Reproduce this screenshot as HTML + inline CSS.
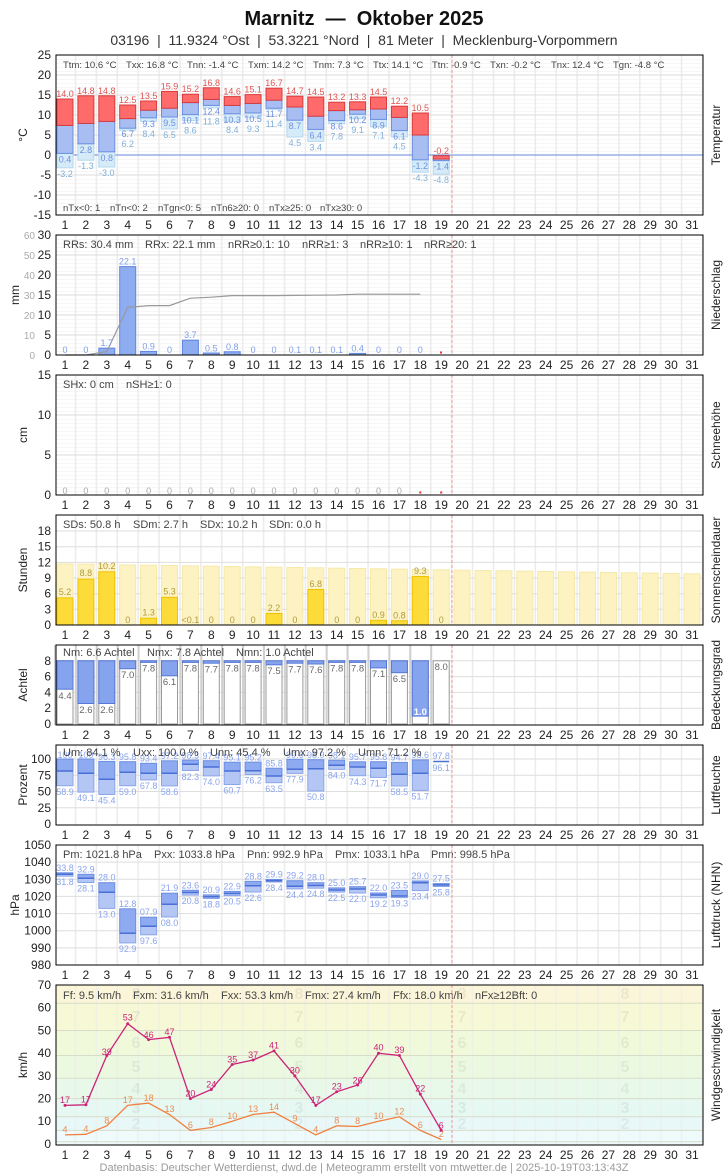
<!DOCTYPE html>
<html><head><meta charset="utf-8"><style>
html,body{margin:0;padding:0;background:#fff}
svg{display:block;font-family:"Liberation Sans",sans-serif}
.t{font-size:12px;fill:#222}
.d{font-size:12px;fill:#222;text-anchor:middle}
.s{font-size:9.5px;fill:#444}
.s2{font-size:11px;fill:#444}
.rl{font-size:12px;fill:#222;text-anchor:middle}
.lab{font-size:9px;text-anchor:middle}
.pre{white-space:pre}
</style></head><body>
<svg width="728" height="1175" viewBox="0 0 728 1175" xmlns="http://www.w3.org/2000/svg">
<defs>
<pattern id="pv" patternUnits="userSpaceOnUse" x="53.8" y="0" width="20.9" height="1200"><rect x="0" y="0" width="1.6" height="1200" fill="#ececec"/></pattern>
<pattern id="ph" patternUnits="userSpaceOnUse" x="0" y="55" width="10" height="4"><rect x="0" y="0" width="10" height="0.6" fill="#f0f0f0"/></pattern>
</defs>
<rect width="728" height="1175" fill="#fff"/>
<text x="364" y="25" text-anchor="middle" class="pre" style="font-size:20px;font-weight:bold" fill="#111">Marnitz  —  Oktober 2025</text>
<text x="364" y="45" text-anchor="middle" class="pre" style="font-size:14px" fill="#333">03196  |  11.9324 °Ost  |  53.3221 °Nord  |  81 Meter  |  Mecklenburg-Vorpommern</text>

<g>
<rect x="56" y="55" width="647" height="160" fill="url(#ph)"/>
<rect x="56" y="235" width="647" height="120" fill="url(#ph)"/>
<rect x="56" y="375" width="647" height="120" fill="url(#ph)"/>
<rect x="56" y="55" width="647" height="160" fill="url(#pv)"/>
<rect x="56" y="235" width="647" height="120" fill="url(#pv)"/>
<rect x="56" y="375" width="647" height="120" fill="url(#pv)"/>
<rect x="56" y="515" width="647" height="110" fill="url(#pv)"/>
<rect x="56" y="645" width="647" height="80" fill="url(#pv)"/>
<rect x="56" y="745" width="647" height="80" fill="url(#pv)"/>
<rect x="56" y="845" width="647" height="120" fill="url(#pv)"/>
</g>
<g stroke="#dedede" stroke-width="1">
<path d="M56 75H703M56 95H703M56 115H703M56 135H703M56 175H703M56 195H703"/>
<path d="M56 255H703M56 275H703M56 295H703M56 315H703M56 335H703"/>
<path d="M56 415H703M56 455H703"/>
<path d="M56 531H703M56 546.7H703M56 562.4H703M56 578H703M56 593.7H703M56 609.3H703"/>
<path d="M56 660.8H703M56 676.6H703M56 692.4H703M56 708.2H703"/>
<path d="M56 759H703M56 775.25H703M56 791.5H703M56 807.75H703"/>
<path d="M56 862.1H703M56 879.3H703M56 896.4H703M56 913.6H703M56 930.7H703M56 947.9H703"/>
</g>
<line x1="56" y1="155" x2="703" y2="155" stroke="#6688dd" stroke-width="1"/>

<g stroke-width="1">
<g fill="#d6ebf8" stroke="#b4d8f0">
<rect x="57" y="153.4" width="16" height="14.4"/><rect x="77.9" y="143.8" width="16" height="16.4"/><rect x="98.8" y="151.8" width="16" height="15.2"/><rect x="119.7" y="128.2" width="16" height="2"/><rect x="140.6" y="117.8" width="16" height="3.6"/><rect x="161.5" y="117" width="16" height="12"/><rect x="182.4" y="114.6" width="16" height="6"/><rect x="203.3" y="105.4" width="16" height="2.4"/><rect x="224.2" y="113.8" width="16" height="7.6"/><rect x="245.1" y="113" width="16" height="4.8"/><rect x="266" y="108.2" width="16" height="1.2"/><rect x="286.9" y="120.2" width="16" height="16.8"/><rect x="307.8" y="129.4" width="16" height="12"/><rect x="328.7" y="120.6" width="16" height="3.2"/><rect x="349.6" y="114.2" width="16" height="4.4"/><rect x="370.5" y="119.4" width="16" height="7.2"/><rect x="391.4" y="130.6" width="16" height="6.4"/><rect x="412.3" y="159.8" width="16" height="12.4"/><rect x="433.2" y="160.6" width="16" height="13.6"/>
</g>
<g fill="#a8bef2" stroke="#6a8ee0">
<rect x="57" y="125.4" width="16" height="28"/><rect x="77.9" y="123.4" width="16" height="20.4"/><rect x="98.8" y="121.4" width="16" height="30.4"/><rect x="119.7" y="118.6" width="16" height="9.6"/><rect x="140.6" y="110.2" width="16" height="7.6"/><rect x="161.5" y="108.2" width="16" height="8.8"/><rect x="182.4" y="102.6" width="16" height="12"/><rect x="203.3" y="99.4" width="16" height="6"/><rect x="224.2" y="105.4" width="16" height="8.4"/><rect x="245.1" y="103.4" width="16" height="9.6"/><rect x="266" y="100.2" width="16" height="8"/><rect x="286.9" y="107" width="16" height="13.2"/><rect x="307.8" y="116.2" width="16" height="13.2"/><rect x="328.7" y="110.6" width="16" height="10"/><rect x="349.6" y="109.8" width="16" height="4.4"/><rect x="370.5" y="109" width="16" height="10.4"/><rect x="391.4" y="117.4" width="16" height="13.2"/><rect x="412.3" y="135" width="16" height="24.8"/><rect x="433.2" y="159" width="16" height="1.6"/>
</g>
<g fill="#ff6b6b" stroke="#d83a3a">
<rect x="57" y="99" width="16" height="26.4"/><rect x="77.9" y="95.8" width="16" height="27.6"/><rect x="98.8" y="95.8" width="16" height="25.6"/><rect x="119.7" y="105" width="16" height="13.6"/><rect x="140.6" y="101" width="16" height="9.2"/><rect x="161.5" y="91.4" width="16" height="16.8"/><rect x="182.4" y="94.2" width="16" height="8.4"/><rect x="203.3" y="87.8" width="16" height="11.6"/><rect x="224.2" y="96.6" width="16" height="8.8"/><rect x="245.1" y="94.6" width="16" height="8.8"/><rect x="266" y="88.2" width="16" height="12"/><rect x="286.9" y="96.2" width="16" height="10.8"/><rect x="307.8" y="97" width="16" height="19.2"/><rect x="328.7" y="102.2" width="16" height="8.4"/><rect x="349.6" y="101.8" width="16" height="8"/><rect x="370.5" y="97" width="16" height="12"/><rect x="391.4" y="106.2" width="16" height="11.2"/><rect x="412.3" y="113" width="16" height="22"/><rect x="433.2" y="155.8" width="16" height="3.2"/>
</g>
</g>
<g class="lab" fill="#e05555">
<text x="65" y="97">14.0</text><text x="85.9" y="93.8">14.8</text><text x="106.8" y="93.8">14.8</text><text x="127.7" y="103">12.5</text><text x="148.6" y="99">13.5</text><text x="169.5" y="89.4">15.9</text><text x="190.4" y="92.2">15.2</text><text x="211.3" y="85.8">16.8</text><text x="232.2" y="94.6">14.6</text><text x="253.1" y="92.6">15.1</text><text x="274" y="86.2">16.7</text><text x="294.9" y="94.2">14.7</text><text x="315.8" y="95">14.5</text><text x="336.7" y="100.2">13.2</text><text x="357.6" y="99.8">13.3</text><text x="378.5" y="95">14.5</text><text x="399.4" y="104.2">12.2</text><text x="420.3" y="111">10.5</text><text x="441.2" y="153.8">-0.2</text>
</g>
<g class="lab" fill="#6f8fe0">
<text x="65" y="162.4">0.4</text><text x="85.9" y="152.8">2.8</text><text x="106.8" y="160.8">0.8</text><text x="127.7" y="137.2">6.7</text><text x="148.6" y="126.8">9.3</text><text x="169.5" y="126">9.5</text><text x="190.4" y="123.6">10.1</text><text x="211.3" y="114.4">12.4</text><text x="232.2" y="122.8">10.3</text><text x="253.1" y="122">10.5</text><text x="274" y="117.2">11.7</text><text x="294.9" y="129.2">8.7</text><text x="315.8" y="138.4">6.4</text><text x="336.7" y="129.6">8.6</text><text x="357.6" y="123.2">10.2</text><text x="378.5" y="128.4">8.9</text><text x="399.4" y="139.6">6.1</text><text x="420.3" y="168.8">-1.2</text><text x="441.2" y="169.6">-1.4</text>
</g>
<g class="lab" fill="#80b0d8">
<text x="65" y="176.8">-3.2</text><text x="85.9" y="169.2">-1.3</text><text x="106.8" y="176">-3.0</text><text x="127.7" y="147.2">6.2</text><text x="148.6" y="136.8">8.4</text><text x="169.5" y="138">6.5</text><text x="190.4" y="133.6">8.6</text><text x="211.3" y="124.4">11.8</text><text x="232.2" y="132.8">8.4</text><text x="253.1" y="132">9.3</text><text x="274" y="127.2">11.4</text><text x="294.9" y="146">4.5</text><text x="315.8" y="150.4">3.4</text><text x="336.7" y="139.6">7.8</text><text x="357.6" y="133.2">9.1</text><text x="378.5" y="138.4">7.1</text><text x="399.4" y="149.6">4.5</text><text x="420.3" y="181.2">-4.3</text><text x="441.2" y="183.2">-4.8</text>
</g>
<g class="s">
<text x="63" y="68">Ttm: 10.6 °C</text><text x="126" y="68">Txx: 16.8 °C</text><text x="187" y="68">Tnn: -1.4 °C</text><text x="248" y="68">Txm: 14.2 °C</text><text x="313" y="68">Tnm: 7.3 °C</text><text x="373" y="68">Ttx: 14.1 °C</text><text x="432" y="68">Ttn: -0.9 °C</text><text x="490" y="68">Txn: -0.2 °C</text><text x="551" y="68">Tnx: 12.4 °C</text><text x="613" y="68">Tgn: -4.8 °C</text>
<text x="63" y="211">nTx&lt;0: 1</text><text x="110" y="211">nTn&lt;0: 2</text><text x="158" y="211">nTgn&lt;0: 5</text><text x="211" y="211">nTn6≥20: 0</text><text x="269" y="211">nTx≥25: 0</text><text x="320" y="211">nTx≥30: 0</text>
</g>

<g fill="#8eacf0" stroke="#5f85e0">
<rect x="98.8" y="348.2" width="16" height="6.8"/><rect x="119.7" y="266.6" width="16" height="88.4"/><rect x="140.6" y="351.4" width="16" height="3.6"/><rect x="182.4" y="340.2" width="16" height="14.8"/><rect x="203.3" y="353" width="16" height="2"/><rect x="224.2" y="351.8" width="16" height="3.2"/><rect x="349.6" y="353.4" width="16" height="1.6"/>
</g>
<polyline fill="none" stroke="#999" stroke-width="1.2" points="65,355 85.9,355 106.8,351.6 127.7,307.4 148.6,305.6 169.5,305.6 190.4,298.2 211.3,297.2 232.2,295.6 253.1,295.6 274,295.6 294.9,295.4 315.8,295.2 336.7,295 357.6,294.2 378.5,294.2 399.4,294.2 420.3,294.2"/>
<g class="lab" fill="#7f9fe8">
<text x="65" y="353">0</text><text x="85.9" y="353">0</text><text x="106.8" y="346">1.7</text><text x="127.7" y="264.5">22.1</text><text x="148.6" y="349.5">0.9</text><text x="169.5" y="353">0</text><text x="190.4" y="338">3.7</text><text x="211.3" y="351.5">0.5</text><text x="232.2" y="350">0.8</text><text x="253.1" y="353">0</text><text x="274" y="353">0</text><text x="294.9" y="353">0.1</text><text x="315.8" y="353">0.1</text><text x="336.7" y="353">0.1</text><text x="357.6" y="351.5">0.4</text><text x="378.5" y="353">0</text><text x="399.4" y="353">0</text><text x="420.3" y="353">0</text>
</g>
<rect x="440" y="351.5" width="2" height="2" fill="#e33"/>
<g class="s2">
<text x="63" y="248">RRs: 30.4 mm</text><text x="145" y="248">RRx: 22.1 mm</text><text x="228" y="248">nRR≥0.1: 10</text><text x="302" y="248">nRR≥1: 3</text><text x="360" y="248">nRR≥10: 1</text><text x="424" y="248">nRR≥20: 1</text>
</g>

<g class="lab" fill="#aaa">
<text x="65" y="494">0</text><text x="85.9" y="494">0</text><text x="106.8" y="494">0</text><text x="127.7" y="494">0</text><text x="148.6" y="494">0</text><text x="169.5" y="494">0</text><text x="190.4" y="494">0</text><text x="211.3" y="494">0</text><text x="232.2" y="494">0</text><text x="253.1" y="494">0</text><text x="274" y="494">0</text><text x="294.9" y="494">0</text><text x="315.8" y="494">0</text><text x="336.7" y="494">0</text><text x="357.6" y="494">0</text><text x="378.5" y="494">0</text><text x="399.4" y="494">0</text>
</g>
<rect x="419.3" y="491.5" width="2" height="2" fill="#e33"/><rect x="440.2" y="491.5" width="2" height="2" fill="#e33"/>
<g class="s2"><text x="63" y="388">SHx: 0 cm</text><text x="126" y="388">nSH≥1: 0</text></g>

<g fill="#fdf3c2" stroke="#f6e8a8">
<rect x="57" y="563.9" width="16" height="61.1"/><rect x="77.9" y="564.2" width="16" height="60.8"/><rect x="98.8" y="564.6" width="16" height="60.4"/><rect x="119.7" y="564.9" width="16" height="60.1"/><rect x="140.6" y="565.2" width="16" height="59.8"/><rect x="161.5" y="565.5" width="16" height="59.5"/><rect x="182.4" y="565.9" width="16" height="59.1"/><rect x="203.3" y="566.2" width="16" height="58.8"/><rect x="224.2" y="566.5" width="16" height="58.5"/><rect x="245.1" y="566.9" width="16" height="58.1"/><rect x="266" y="567.2" width="16" height="57.8"/><rect x="286.9" y="567.5" width="16" height="57.5"/><rect x="307.8" y="567.8" width="16" height="57.2"/><rect x="328.7" y="568.2" width="16" height="56.8"/><rect x="349.6" y="568.5" width="16" height="56.5"/><rect x="370.5" y="568.8" width="16" height="56.2"/><rect x="391.4" y="569.2" width="16" height="55.8"/><rect x="412.3" y="569.5" width="16" height="55.5"/><rect x="433.2" y="569.8" width="16" height="55.2"/><rect x="454.1" y="570.2" width="16" height="54.8"/><rect x="475" y="570.5" width="16" height="54.5"/><rect x="495.9" y="570.8" width="16" height="54.2"/><rect x="516.8" y="571.1" width="16" height="53.9"/><rect x="537.7" y="571.5" width="16" height="53.5"/><rect x="558.6" y="571.8" width="16" height="53.2"/><rect x="579.5" y="572.1" width="16" height="52.9"/><rect x="600.4" y="572.5" width="16" height="52.5"/><rect x="621.3" y="572.8" width="16" height="52.2"/><rect x="642.2" y="573.1" width="16" height="51.9"/><rect x="663.1" y="573.4" width="16" height="51.6"/><rect x="684" y="573.8" width="16" height="51.2"/>
</g>
<g fill="#fddc3a" stroke="#efc200">
<rect x="57" y="597.9" width="16" height="27.1"/><rect x="77.9" y="579.1" width="16" height="45.9"/><rect x="98.8" y="571.8" width="16" height="53.2"/><rect x="140.6" y="618.2" width="16" height="6.8"/><rect x="161.5" y="597.3" width="16" height="27.7"/><rect x="266" y="613.5" width="16" height="11.5"/><rect x="307.8" y="589.5" width="16" height="35.5"/><rect x="370.5" y="620.3" width="16" height="4.7"/><rect x="391.4" y="620.8" width="16" height="4.2"/><rect x="412.3" y="576.5" width="16" height="48.5"/>
</g>
<g class="lab" fill="#b09a3a">
<text x="65" y="595">5.2</text><text x="85.9" y="576">8.8</text><text x="106.8" y="569">10.2</text><text x="127.7" y="623">0</text><text x="148.6" y="615.5">1.3</text><text x="169.5" y="594.5">5.3</text><text x="190.4" y="623">&lt;0.1</text><text x="211.3" y="623">0</text><text x="232.2" y="623">0</text><text x="253.1" y="623">0</text><text x="274" y="611">2.2</text><text x="294.9" y="623">0</text><text x="315.8" y="587">6.8</text><text x="336.7" y="623">0</text><text x="357.6" y="623">0</text><text x="378.5" y="618">0.9</text><text x="399.4" y="618.5">0.8</text><text x="420.3" y="574">9.3</text><text x="441.2" y="623">0</text>
</g>
<g class="s2"><text x="63" y="528">SDs: 50.8 h</text><text x="133" y="528">SDm: 2.7 h</text><text x="200" y="528">SDx: 10.2 h</text><text x="269" y="528">SDn: 0.0 h</text></g>

<g stroke="#d0d0d0" stroke-width="2"><path d="M55 645V725M75.9 645V725M96.8 645V725M117.7 645V725M138.6 645V725M159.5 645V725M180.4 645V725M201.3 645V725M222.2 645V725M243.1 645V725M264 645V725M284.9 645V725M305.8 645V725M326.7 645V725M347.6 645V725M368.5 645V725M389.4 645V725M410.3 645V725M431.2 645V725"/></g>
<g fill="#fff" stroke="#999">
<rect x="57" y="660.8" width="16" height="63.2"/><rect x="77.9" y="660.8" width="16" height="63.2"/><rect x="98.8" y="660.8" width="16" height="63.2"/><rect x="119.7" y="660.8" width="16" height="63.2"/><rect x="140.6" y="660.8" width="16" height="63.2"/><rect x="161.5" y="660.8" width="16" height="63.2"/><rect x="182.4" y="660.8" width="16" height="63.2"/><rect x="203.3" y="660.8" width="16" height="63.2"/><rect x="224.2" y="660.8" width="16" height="63.2"/><rect x="245.1" y="660.8" width="16" height="63.2"/><rect x="266" y="660.8" width="16" height="63.2"/><rect x="286.9" y="660.8" width="16" height="63.2"/><rect x="307.8" y="660.8" width="16" height="63.2"/><rect x="328.7" y="660.8" width="16" height="63.2"/><rect x="349.6" y="660.8" width="16" height="63.2"/><rect x="370.5" y="660.8" width="16" height="63.2"/><rect x="391.4" y="660.8" width="16" height="63.2"/><rect x="412.3" y="660.8" width="16" height="63.2"/><rect x="433.2" y="660.8" width="16" height="63.2"/>
</g>
<g fill="#86a4ee" stroke="#5577d8">
<rect x="57" y="660.8" width="16" height="28.4"/><rect x="77.9" y="660.8" width="16" height="42.7"/><rect x="98.8" y="660.8" width="16" height="42.7"/><rect x="119.7" y="660.8" width="16" height="7.9"/><rect x="140.6" y="660.8" width="16" height="1.6"/><rect x="161.5" y="660.8" width="16" height="15"/><rect x="182.4" y="660.8" width="16" height="1.6"/><rect x="203.3" y="660.8" width="16" height="2.4"/><rect x="224.2" y="660.8" width="16" height="1.6"/><rect x="245.1" y="660.8" width="16" height="1.6"/><rect x="266" y="660.8" width="16" height="4"/><rect x="286.9" y="660.8" width="16" height="2.4"/><rect x="307.8" y="660.8" width="16" height="3.2"/><rect x="328.7" y="660.8" width="16" height="1.6"/><rect x="349.6" y="660.8" width="16" height="1.6"/><rect x="370.5" y="660.8" width="16" height="7.1"/><rect x="391.4" y="660.8" width="16" height="11.9"/><rect x="412.3" y="660.8" width="16" height="55.3"/>
</g>
<g class="lab" fill="#666" style="font-size:9.5px">
<text x="65" y="699">4.4</text><text x="85.9" y="713">2.6</text><text x="106.8" y="713">2.6</text><text x="127.7" y="678">7.0</text><text x="148.6" y="671.5">7.8</text><text x="169.5" y="685">6.1</text><text x="190.4" y="671.5">7.8</text><text x="211.3" y="672.5">7.7</text><text x="232.2" y="671.5">7.8</text><text x="253.1" y="671.5">7.8</text><text x="274" y="674">7.5</text><text x="294.9" y="672.5">7.7</text><text x="315.8" y="673">7.6</text><text x="336.7" y="671.5">7.8</text><text x="357.6" y="671.5">7.8</text><text x="378.5" y="677">7.1</text><text x="399.4" y="682">6.5</text><text x="441.2" y="670">8.0</text>
</g>
<text x="420.3" y="715" class="lab" fill="#fff" style="font-weight:bold;font-size:9.5px">1.0</text>
<g class="s2"><text x="63" y="656">Nm: 6.6 Achtel</text><text x="147" y="656">Nmx: 7.8 Achtel</text><text x="236" y="656">Nmn: 1.0 Achtel</text></g>

<g fill="#8eaaf0" stroke="#6a8ee0">
<rect x="57" y="759" width="16" height="12"/><rect x="77.9" y="759" width="16" height="14.3"/><rect x="98.8" y="761.4" width="16" height="17.9"/><rect x="119.7" y="761.7" width="16" height="10.6"/><rect x="140.6" y="763.3" width="16" height="10"/><rect x="161.5" y="760.8" width="16" height="12.5"/><rect x="182.4" y="760.1" width="16" height="4.2"/><rect x="203.3" y="760.7" width="16" height="6.3"/><rect x="224.2" y="762.2" width="16" height="8.8"/><rect x="245.1" y="762.1" width="16" height="8.6"/><rect x="266" y="768.2" width="16" height="7.8"/><rect x="286.9" y="759.3" width="16" height="10"/><rect x="307.8" y="759.7" width="16" height="9"/><rect x="328.7" y="760.2" width="16" height="5.1"/><rect x="349.6" y="761.8" width="16" height="5.2"/><rect x="370.5" y="761.7" width="16" height="6.6"/><rect x="391.4" y="762.4" width="16" height="11.9"/><rect x="412.3" y="759.9" width="16" height="13.4"/>
</g>
<g fill="#b4c6f4" stroke="#8aa6ea">
<rect x="57" y="771" width="16" height="14.7"/><rect x="77.9" y="773.3" width="16" height="18.8"/><rect x="98.8" y="779.3" width="16" height="15.2"/><rect x="119.7" y="772.3" width="16" height="13.4"/><rect x="140.6" y="773.3" width="16" height="6.6"/><rect x="161.5" y="773.3" width="16" height="12.6"/><rect x="182.4" y="764.3" width="16" height="6.2"/><rect x="203.3" y="767" width="16" height="8.9"/><rect x="224.2" y="771" width="16" height="13.5"/><rect x="245.1" y="770.7" width="16" height="3.8"/><rect x="266" y="776" width="16" height="6.7"/><rect x="286.9" y="769.3" width="16" height="4.1"/><rect x="307.8" y="768.7" width="16" height="22.3"/><rect x="328.7" y="765.3" width="16" height="4.1"/><rect x="349.6" y="767" width="16" height="8.7"/><rect x="370.5" y="768.3" width="16" height="9.1"/><rect x="391.4" y="774.3" width="16" height="11.7"/><rect x="412.3" y="773.3" width="16" height="17.1"/>
</g>
<g stroke="#4a6fd6" stroke-width="1.5">
<path d="M57 771h16M77.9 773.3h16M98.8 779.3h16M119.7 772.3h16M140.6 773.3h16M161.5 773.3h16M182.4 764.3h16M203.3 767h16M224.2 771h16M245.1 770.7h16M266 776h16M286.9 769.3h16M307.8 768.7h16M328.7 765.3h16M349.6 767h16M370.5 768.3h16M391.4 774.3h16M412.3 773.3h16M433.2 761.5h16"/>
</g>
<g class="lab" fill="#8aa4ec">
<text x="65" y="758">100</text><text x="85.9" y="758">100</text><text x="106.8" y="760">96.3</text><text x="127.7" y="760">95.8</text><text x="148.6" y="761.5">93.4</text><text x="169.5" y="759">97.2</text><text x="190.4" y="758.5">98.3</text><text x="211.3" y="759">97.4</text><text x="232.2" y="760.5">95.1</text><text x="253.1" y="760.5">95.2</text><text x="274" y="766.5">85.8</text><text x="294.9" y="758">99.6</text><text x="315.8" y="758">98.9</text><text x="336.7" y="758.5">98.1</text><text x="357.6" y="760">95.7</text><text x="378.5" y="760">95.8</text><text x="399.4" y="760.5">94.7</text><text x="420.3" y="758">98.6</text><text x="441.2" y="759">97.8</text>
<text x="65" y="795">58.9</text><text x="85.9" y="801">49.1</text><text x="106.8" y="803.5">45.4</text><text x="127.7" y="795">59.0</text><text x="148.6" y="789">67.8</text><text x="169.5" y="795">58.6</text><text x="190.4" y="780">82.3</text><text x="211.3" y="785">74.0</text><text x="232.2" y="793.5">60.7</text><text x="253.1" y="783.5">76.2</text><text x="274" y="792">63.5</text><text x="294.9" y="782.5">77.9</text><text x="315.8" y="800">50.8</text><text x="336.7" y="778.5">84.0</text><text x="357.6" y="785">74.3</text><text x="378.5" y="786.5">71.7</text><text x="399.4" y="795">58.5</text><text x="420.3" y="799.5">51.7</text><text x="441.2" y="771">96.1</text>
</g>
<g class="s2" fill="#333"><text x="63" y="756">Um: 84.1 %</text><text x="133" y="756">Uxx: 100.0 %</text><text x="210" y="756">Unn: 45.4 %</text><text x="283" y="756">Umx: 97.2 %</text><text x="358" y="756">Umn: 71.2 %</text></g>

<g fill="#8eaaf0" stroke="#6a8ee0">
<rect x="57" y="872.8" width="16" height="1.5"/><rect x="77.9" y="874.3" width="16" height="4"/><rect x="98.8" y="882.7" width="16" height="9.6"/><rect x="119.7" y="908.8" width="16" height="24.5"/><rect x="140.6" y="917.2" width="16" height="9.1"/><rect x="161.5" y="893.2" width="16" height="11.1"/><rect x="182.4" y="890.3" width="16" height="2.2"/><rect x="203.3" y="894.9" width="16" height="1.8"/><rect x="224.2" y="891.4" width="16" height="2.1"/><rect x="245.1" y="881.3" width="16" height="4.4"/><rect x="266" y="879.5" width="16" height="1.3"/><rect x="286.9" y="880.7" width="16" height="5.6"/><rect x="307.8" y="882.7" width="16" height="2.8"/><rect x="328.7" y="887.9" width="16" height="2.1"/><rect x="349.6" y="886.7" width="16" height="2.3"/><rect x="370.5" y="893" width="16" height="2"/><rect x="391.4" y="890.4" width="16" height="5.6"/><rect x="412.3" y="881" width="16" height="1.7"/><rect x="433.2" y="883.6" width="16" height="1.4"/>
</g>
<g fill="#b4c6f4" stroke="#8aa6ea">
<rect x="57" y="874.3" width="16" height="1.9"/><rect x="77.9" y="878.3" width="16" height="4.2"/><rect x="98.8" y="892.3" width="16" height="16.1"/><rect x="119.7" y="933.3" width="16" height="9.6"/><rect x="140.6" y="926.3" width="16" height="8.5"/><rect x="161.5" y="904.3" width="16" height="12.7"/><rect x="182.4" y="892.5" width="16" height="2.6"/><rect x="203.3" y="896.7" width="16" height="1.8"/><rect x="224.2" y="893.5" width="16" height="2.1"/><rect x="245.1" y="885.7" width="16" height="6.3"/><rect x="266" y="880.8" width="16" height="1.2"/><rect x="286.9" y="886.3" width="16" height="2.6"/><rect x="307.8" y="885.5" width="16" height="2.7"/><rect x="328.7" y="890" width="16" height="2.1"/><rect x="349.6" y="889" width="16" height="4"/><rect x="370.5" y="895" width="16" height="2.8"/><rect x="391.4" y="896" width="16" height="1.6"/><rect x="412.3" y="882.7" width="16" height="7.9"/><rect x="433.2" y="885" width="16" height="1.5"/>
</g>
<g stroke="#4a6fd6" stroke-width="1.5">
<path d="M57 874.3h16M77.9 878.3h16M98.8 892.3h16M119.7 933.3h16M140.6 926.3h16M161.5 904.3h16M182.4 892.5h16M203.3 896.7h16M224.2 893.5h16M245.1 885.7h16M266 880.8h16M286.9 886.3h16M307.8 885.5h16M328.7 890h16M349.6 889h16M370.5 895h16M391.4 896h16M412.3 882.7h16M433.2 885h16"/>
</g>
<g class="lab" fill="#8aa4ec">
<text x="65" y="871">33.8</text><text x="85.9" y="872.5">32.9</text><text x="106.8" y="880.7">28.0</text><text x="127.7" y="906.8">12.8</text><text x="148.6" y="915.2">07.9</text><text x="169.5" y="891.2">21.9</text><text x="190.4" y="888.3">23.6</text><text x="211.3" y="892.9">20.9</text><text x="232.2" y="889.4">22.9</text><text x="253.1" y="879.3">28.8</text><text x="274" y="877.5">29.9</text><text x="294.9" y="878.7">29.2</text><text x="315.8" y="880.7">28.0</text><text x="336.7" y="885.9">25.0</text><text x="357.6" y="884.7">25.7</text><text x="378.5" y="891">22.0</text><text x="399.4" y="888.4">23.5</text><text x="420.3" y="879">29.0</text><text x="441.2" y="881.6">27.5</text>
<text x="65" y="885.2">31.8</text><text x="85.9" y="891.5">28.1</text><text x="106.8" y="917.4">13.0</text><text x="127.7" y="951.9">92.9</text><text x="148.6" y="943.8">97.6</text><text x="169.5" y="926">08.0</text><text x="190.4" y="904.1">20.8</text><text x="211.3" y="907.5">18.8</text><text x="232.2" y="904.6">20.5</text><text x="253.1" y="901">22.6</text><text x="274" y="891">28.4</text><text x="294.9" y="897.9">24.4</text><text x="315.8" y="897.2">24.8</text><text x="336.7" y="901.1">22.5</text><text x="357.6" y="902">22.0</text><text x="378.5" y="906.8">19.2</text><text x="399.4" y="906.6">19.3</text><text x="420.3" y="899.6">23.4</text><text x="441.2" y="895.5">25.8</text>
</g>
<g class="s2" fill="#333"><text x="63" y="858">Pm: 1021.8 hPa</text><text x="154" y="858">Pxx: 1033.8 hPa</text><text x="247" y="858">Pnn: 992.9 hPa</text><text x="335" y="858">Pmx: 1033.1 hPa</text><text x="431" y="858">Pmn: 998.5 hPa</text></g>

<g>
<rect x="56" y="985" width="647" height="18.3" fill="#fbf5d9"/>
<rect x="56" y="1003.3" width="647" height="27.2" fill="#f6f8d6"/>
<rect x="56" y="1030.5" width="647" height="25" fill="#f0f9da"/>
<rect x="56" y="1055.5" width="647" height="22.7" fill="#ecf9e1"/>
<rect x="56" y="1078.2" width="647" height="20.4" fill="#e8f9ea"/>
<rect x="56" y="1098.6" width="647" height="18.2" fill="#e6f8f2"/>
<rect x="56" y="1116.8" width="647" height="13.6" fill="#e8f8f8"/>
<rect x="56" y="1130.4" width="647" height="14.6" fill="#eefafc"/>
<rect x="56" y="985" width="647" height="160" fill="url(#pv)" opacity="0.6"/>
<g stroke="#d8dcc8" stroke-width="1"><path d="M56 1003.3H703M56 1030.5H703M56 1055.5H703M56 1078.2H703M56 1098.6H703M56 1116.8H703M56 1130.4H703M56 1141.7H703"/></g>
<g style="font-size:16px;font-weight:bold" fill="#000" fill-opacity="0.06" text-anchor="middle">
<text x="136" y="999">8</text><text x="299" y="999">8</text><text x="462" y="999">8</text><text x="625" y="999">8</text>
<text x="136" y="1022">7</text><text x="299" y="1022">7</text><text x="462" y="1022">7</text><text x="625" y="1022">7</text>
<text x="136" y="1048">6</text><text x="299" y="1048">6</text><text x="462" y="1048">6</text><text x="625" y="1048">6</text>
<text x="136" y="1072">5</text><text x="299" y="1072">5</text><text x="462" y="1072">5</text><text x="625" y="1072">5</text>
<text x="136" y="1094">4</text><text x="299" y="1094">4</text><text x="462" y="1094">4</text><text x="625" y="1094">4</text>
<text x="136" y="1113">3</text><text x="299" y="1113">3</text><text x="462" y="1113">3</text><text x="625" y="1113">3</text>
<text x="136" y="1129">2</text><text x="299" y="1129">2</text><text x="462" y="1129">2</text><text x="625" y="1129">2</text>
</g>
<polyline fill="none" stroke="#cc2277" stroke-width="1.3" points="65,1105.4 85.9,1104.8 106.8,1055.5 127.7,1023.7 148.6,1039.6 169.5,1037.3 190.4,1098.6 211.3,1089.5 232.2,1064.5 253.1,1060 274,1050.9 294.9,1075.9 315.8,1105.4 336.7,1091.8 357.6,1085 378.5,1053.2 399.4,1055.5 420.3,1094.1 441.2,1130.4"/>
<polyline fill="none" stroke="#f08040" stroke-width="1.3" points="65,1134.9 85.9,1134.3 106.8,1125.8 127.7,1105.4 148.6,1103.1 169.5,1114.5 190.4,1130.4 211.3,1127.5 232.2,1121.3 253.1,1114.5 274,1112.2 294.9,1123.6 315.8,1134.9 336.7,1125.8 357.6,1126.5 378.5,1121.3 399.4,1116.8 420.3,1130.4 441.2,1139.5"/>
<g class="lab" fill="#cc2277">
<text x="65" y="1103">17</text><text x="85.9" y="1102.5">17</text><text x="106.8" y="1055">39</text><text x="127.7" y="1020.5">53</text><text x="148.6" y="1038">46</text><text x="169.5" y="1035">47</text><text x="190.4" y="1096.5">20</text><text x="211.3" y="1087.5">24</text><text x="232.2" y="1062.5">35</text><text x="253.1" y="1058">37</text><text x="274" y="1048.5">41</text><text x="294.9" y="1073.5">30</text><text x="315.8" y="1103">17</text><text x="336.7" y="1089.5">23</text><text x="357.6" y="1083.5">26</text><text x="378.5" y="1050.5">40</text><text x="399.4" y="1053">39</text><text x="420.3" y="1091.5">22</text><text x="441.2" y="1128.5">6</text>
</g>
<g class="lab" fill="#f08a50">
<text x="65" y="1132.5">4</text><text x="85.9" y="1132">4</text><text x="106.8" y="1123.5">8</text><text x="127.7" y="1103">17</text><text x="148.6" y="1101">18</text><text x="169.5" y="1112">13</text><text x="190.4" y="1128">6</text><text x="211.3" y="1125">8</text><text x="232.2" y="1119">10</text><text x="253.1" y="1112">13</text><text x="274" y="1110">14</text><text x="294.9" y="1121.5">9</text><text x="315.8" y="1132.5">4</text><text x="336.7" y="1123.5">8</text><text x="357.6" y="1124">8</text><text x="378.5" y="1119">10</text><text x="399.4" y="1114.5">12</text><text x="420.3" y="1128">6</text><text x="441.2" y="1137">2</text>
</g>
<g fill="#cc2277"><circle cx="65" cy="1105.4" r="1.5"/><circle cx="85.9" cy="1104.8" r="1.5"/><circle cx="106.8" cy="1055.5" r="1.5"/><circle cx="127.7" cy="1023.7" r="1.5"/><circle cx="148.6" cy="1039.6" r="1.5"/><circle cx="169.5" cy="1037.3" r="1.5"/><circle cx="190.4" cy="1098.6" r="1.5"/><circle cx="211.3" cy="1089.5" r="1.5"/><circle cx="232.2" cy="1064.5" r="1.5"/><circle cx="253.1" cy="1060" r="1.5"/><circle cx="274" cy="1050.9" r="1.5"/><circle cx="294.9" cy="1075.9" r="1.5"/><circle cx="315.8" cy="1105.4" r="1.5"/><circle cx="336.7" cy="1091.8" r="1.5"/><circle cx="357.6" cy="1085" r="1.5"/><circle cx="378.5" cy="1053.2" r="1.5"/><circle cx="399.4" cy="1055.5" r="1.5"/><circle cx="420.3" cy="1094.1" r="1.5"/><circle cx="441.2" cy="1130.4" r="1.5"/></g>
<g class="s2" fill="#333"><text x="63" y="999">Ff: 9.5 km/h</text><text x="133" y="999">Fxm: 31.6 km/h</text><text x="221" y="999">Fxx: 53.3 km/h</text><text x="305" y="999">Fmx: 27.4 km/h</text><text x="393" y="999">Ffx: 18.0 km/h</text><text x="475" y="999">nFx≥12Bft: 0</text></g>
</g>

<g stroke="#f29a9a" stroke-width="1" stroke-dasharray="3,2">
<path d="M452 55V215M452 235V355M452 375V495M452 515V625M452 645V725M452 745V825M452 845V965M452 985V1145"/>
</g>

<g fill="none" stroke="#000" stroke-width="1">
<rect x="56" y="55" width="647" height="160"/><rect x="56" y="235" width="647" height="120"/><rect x="56" y="375" width="647" height="120"/><rect x="56" y="515" width="647" height="110"/><rect x="56" y="645" width="647" height="80"/><rect x="56" y="745" width="647" height="80"/><rect x="56" y="845" width="647" height="120"/><rect x="56" y="985" width="647" height="160"/>
</g>

<g class="t" text-anchor="end">
<text x="51" y="59">25</text><text x="51" y="79">20</text><text x="51" y="99">15</text><text x="51" y="119">10</text><text x="51" y="139">5</text><text x="51" y="159">0</text><text x="51" y="179">-5</text><text x="51" y="199">-10</text><text x="51" y="219">-15</text>
<text x="51" y="239">30</text><text x="51" y="259">25</text><text x="51" y="279">20</text><text x="51" y="299">15</text><text x="51" y="319">10</text><text x="51" y="339">5</text><text x="51" y="359">0</text>
<text x="51" y="379">15</text><text x="51" y="419">10</text><text x="51" y="459">5</text><text x="51" y="499">0</text>
<text x="51" y="535">18</text><text x="51" y="550.7">15</text><text x="51" y="566.4">12</text><text x="51" y="582">9</text><text x="51" y="597.7">6</text><text x="51" y="613.3">3</text><text x="51" y="629">0</text>
<text x="51" y="664.8">8</text><text x="51" y="680.6">6</text><text x="51" y="696.4">4</text><text x="51" y="712.2">2</text><text x="51" y="728">0</text>
<text x="51" y="763">100</text><text x="51" y="779.25">75</text><text x="51" y="795.5">50</text><text x="51" y="811.75">25</text><text x="51" y="828">0</text>
<text x="51" y="849">1050</text><text x="51" y="866.1">1040</text><text x="51" y="883.3">1030</text><text x="51" y="900.4">1020</text><text x="51" y="917.6">1010</text><text x="51" y="934.7">1000</text><text x="51" y="951.9">990</text><text x="51" y="969">980</text>
<text x="51" y="989">70</text><text x="51" y="1011.7">60</text><text x="51" y="1034.4">50</text><text x="51" y="1057.1">40</text><text x="51" y="1079.8">30</text><text x="51" y="1102.5">20</text><text x="51" y="1125.2">10</text><text x="51" y="1148">0</text>
</g>
<g text-anchor="end" style="font-size:10px" fill="#aaa">
<text x="35" y="239">60</text><text x="35" y="259">50</text><text x="35" y="279">40</text><text x="35" y="299">30</text><text x="35" y="319">20</text><text x="35" y="339">10</text><text x="35" y="359">0</text>
</g>
<g class="rl">
<text transform="translate(27,135) rotate(-90)">°C</text>
<text transform="translate(19,295) rotate(-90)">mm</text>
<text transform="translate(27,435) rotate(-90)">cm</text>
<text transform="translate(27,570) rotate(-90)">Stunden</text>
<text transform="translate(27,685) rotate(-90)">Achtel</text>
<text transform="translate(27,785) rotate(-90)">Prozent</text>
<text transform="translate(19,905) rotate(-90)">hPa</text>
<text transform="translate(27,1065) rotate(-90)">km/h</text>
<text transform="translate(720,135) rotate(-90)">Temperatur</text>
<text transform="translate(720,295) rotate(-90)">Niederschlag</text>
<text transform="translate(720,435) rotate(-90)">Schneehöhe</text>
<text transform="translate(720,570) rotate(-90)">Sonnenscheindauer</text>
<text transform="translate(720,685) rotate(-90)">Bedeckungsgrad</text>
<text transform="translate(720,785) rotate(-90)">Luftfeuchte</text>
<text transform="translate(720,905) rotate(-90)">Luftdruck (NHN)</text>
<text transform="translate(720,1065) rotate(-90)">Windgeschwindigkeit</text>
</g>

<text class="d" y="229"><tspan x="65">1</tspan><tspan x="85.9">2</tspan><tspan x="106.8">3</tspan><tspan x="127.7">4</tspan><tspan x="148.6">5</tspan><tspan x="169.5">6</tspan><tspan x="190.4">7</tspan><tspan x="211.3">8</tspan><tspan x="232.2">9</tspan><tspan x="253.1">10</tspan><tspan x="274">11</tspan><tspan x="294.9">12</tspan><tspan x="315.8">13</tspan><tspan x="336.7">14</tspan><tspan x="357.6">15</tspan><tspan x="378.5">16</tspan><tspan x="399.4">17</tspan><tspan x="420.3">18</tspan><tspan x="441.2">19</tspan><tspan x="462.1">20</tspan><tspan x="483">21</tspan><tspan x="503.9">22</tspan><tspan x="524.8">23</tspan><tspan x="545.7">24</tspan><tspan x="566.6">25</tspan><tspan x="587.5">26</tspan><tspan x="608.4">27</tspan><tspan x="629.3">28</tspan><tspan x="650.2">29</tspan><tspan x="671.1">30</tspan><tspan x="692">31</tspan></text>
<text class="d" y="369"><tspan x="65">1</tspan><tspan x="85.9">2</tspan><tspan x="106.8">3</tspan><tspan x="127.7">4</tspan><tspan x="148.6">5</tspan><tspan x="169.5">6</tspan><tspan x="190.4">7</tspan><tspan x="211.3">8</tspan><tspan x="232.2">9</tspan><tspan x="253.1">10</tspan><tspan x="274">11</tspan><tspan x="294.9">12</tspan><tspan x="315.8">13</tspan><tspan x="336.7">14</tspan><tspan x="357.6">15</tspan><tspan x="378.5">16</tspan><tspan x="399.4">17</tspan><tspan x="420.3">18</tspan><tspan x="441.2">19</tspan><tspan x="462.1">20</tspan><tspan x="483">21</tspan><tspan x="503.9">22</tspan><tspan x="524.8">23</tspan><tspan x="545.7">24</tspan><tspan x="566.6">25</tspan><tspan x="587.5">26</tspan><tspan x="608.4">27</tspan><tspan x="629.3">28</tspan><tspan x="650.2">29</tspan><tspan x="671.1">30</tspan><tspan x="692">31</tspan></text>
<text class="d" y="509"><tspan x="65">1</tspan><tspan x="85.9">2</tspan><tspan x="106.8">3</tspan><tspan x="127.7">4</tspan><tspan x="148.6">5</tspan><tspan x="169.5">6</tspan><tspan x="190.4">7</tspan><tspan x="211.3">8</tspan><tspan x="232.2">9</tspan><tspan x="253.1">10</tspan><tspan x="274">11</tspan><tspan x="294.9">12</tspan><tspan x="315.8">13</tspan><tspan x="336.7">14</tspan><tspan x="357.6">15</tspan><tspan x="378.5">16</tspan><tspan x="399.4">17</tspan><tspan x="420.3">18</tspan><tspan x="441.2">19</tspan><tspan x="462.1">20</tspan><tspan x="483">21</tspan><tspan x="503.9">22</tspan><tspan x="524.8">23</tspan><tspan x="545.7">24</tspan><tspan x="566.6">25</tspan><tspan x="587.5">26</tspan><tspan x="608.4">27</tspan><tspan x="629.3">28</tspan><tspan x="650.2">29</tspan><tspan x="671.1">30</tspan><tspan x="692">31</tspan></text>
<text class="d" y="639"><tspan x="65">1</tspan><tspan x="85.9">2</tspan><tspan x="106.8">3</tspan><tspan x="127.7">4</tspan><tspan x="148.6">5</tspan><tspan x="169.5">6</tspan><tspan x="190.4">7</tspan><tspan x="211.3">8</tspan><tspan x="232.2">9</tspan><tspan x="253.1">10</tspan><tspan x="274">11</tspan><tspan x="294.9">12</tspan><tspan x="315.8">13</tspan><tspan x="336.7">14</tspan><tspan x="357.6">15</tspan><tspan x="378.5">16</tspan><tspan x="399.4">17</tspan><tspan x="420.3">18</tspan><tspan x="441.2">19</tspan><tspan x="462.1">20</tspan><tspan x="483">21</tspan><tspan x="503.9">22</tspan><tspan x="524.8">23</tspan><tspan x="545.7">24</tspan><tspan x="566.6">25</tspan><tspan x="587.5">26</tspan><tspan x="608.4">27</tspan><tspan x="629.3">28</tspan><tspan x="650.2">29</tspan><tspan x="671.1">30</tspan><tspan x="692">31</tspan></text>
<text class="d" y="739"><tspan x="65">1</tspan><tspan x="85.9">2</tspan><tspan x="106.8">3</tspan><tspan x="127.7">4</tspan><tspan x="148.6">5</tspan><tspan x="169.5">6</tspan><tspan x="190.4">7</tspan><tspan x="211.3">8</tspan><tspan x="232.2">9</tspan><tspan x="253.1">10</tspan><tspan x="274">11</tspan><tspan x="294.9">12</tspan><tspan x="315.8">13</tspan><tspan x="336.7">14</tspan><tspan x="357.6">15</tspan><tspan x="378.5">16</tspan><tspan x="399.4">17</tspan><tspan x="420.3">18</tspan><tspan x="441.2">19</tspan><tspan x="462.1">20</tspan><tspan x="483">21</tspan><tspan x="503.9">22</tspan><tspan x="524.8">23</tspan><tspan x="545.7">24</tspan><tspan x="566.6">25</tspan><tspan x="587.5">26</tspan><tspan x="608.4">27</tspan><tspan x="629.3">28</tspan><tspan x="650.2">29</tspan><tspan x="671.1">30</tspan><tspan x="692">31</tspan></text>
<text class="d" y="839"><tspan x="65">1</tspan><tspan x="85.9">2</tspan><tspan x="106.8">3</tspan><tspan x="127.7">4</tspan><tspan x="148.6">5</tspan><tspan x="169.5">6</tspan><tspan x="190.4">7</tspan><tspan x="211.3">8</tspan><tspan x="232.2">9</tspan><tspan x="253.1">10</tspan><tspan x="274">11</tspan><tspan x="294.9">12</tspan><tspan x="315.8">13</tspan><tspan x="336.7">14</tspan><tspan x="357.6">15</tspan><tspan x="378.5">16</tspan><tspan x="399.4">17</tspan><tspan x="420.3">18</tspan><tspan x="441.2">19</tspan><tspan x="462.1">20</tspan><tspan x="483">21</tspan><tspan x="503.9">22</tspan><tspan x="524.8">23</tspan><tspan x="545.7">24</tspan><tspan x="566.6">25</tspan><tspan x="587.5">26</tspan><tspan x="608.4">27</tspan><tspan x="629.3">28</tspan><tspan x="650.2">29</tspan><tspan x="671.1">30</tspan><tspan x="692">31</tspan></text>
<text class="d" y="979"><tspan x="65">1</tspan><tspan x="85.9">2</tspan><tspan x="106.8">3</tspan><tspan x="127.7">4</tspan><tspan x="148.6">5</tspan><tspan x="169.5">6</tspan><tspan x="190.4">7</tspan><tspan x="211.3">8</tspan><tspan x="232.2">9</tspan><tspan x="253.1">10</tspan><tspan x="274">11</tspan><tspan x="294.9">12</tspan><tspan x="315.8">13</tspan><tspan x="336.7">14</tspan><tspan x="357.6">15</tspan><tspan x="378.5">16</tspan><tspan x="399.4">17</tspan><tspan x="420.3">18</tspan><tspan x="441.2">19</tspan><tspan x="462.1">20</tspan><tspan x="483">21</tspan><tspan x="503.9">22</tspan><tspan x="524.8">23</tspan><tspan x="545.7">24</tspan><tspan x="566.6">25</tspan><tspan x="587.5">26</tspan><tspan x="608.4">27</tspan><tspan x="629.3">28</tspan><tspan x="650.2">29</tspan><tspan x="671.1">30</tspan><tspan x="692">31</tspan></text>
<text class="d" y="1159"><tspan x="65">1</tspan><tspan x="85.9">2</tspan><tspan x="106.8">3</tspan><tspan x="127.7">4</tspan><tspan x="148.6">5</tspan><tspan x="169.5">6</tspan><tspan x="190.4">7</tspan><tspan x="211.3">8</tspan><tspan x="232.2">9</tspan><tspan x="253.1">10</tspan><tspan x="274">11</tspan><tspan x="294.9">12</tspan><tspan x="315.8">13</tspan><tspan x="336.7">14</tspan><tspan x="357.6">15</tspan><tspan x="378.5">16</tspan><tspan x="399.4">17</tspan><tspan x="420.3">18</tspan><tspan x="441.2">19</tspan><tspan x="462.1">20</tspan><tspan x="483">21</tspan><tspan x="503.9">22</tspan><tspan x="524.8">23</tspan><tspan x="545.7">24</tspan><tspan x="566.6">25</tspan><tspan x="587.5">26</tspan><tspan x="608.4">27</tspan><tspan x="629.3">28</tspan><tspan x="650.2">29</tspan><tspan x="671.1">30</tspan><tspan x="692">31</tspan></text>

<text x="364" y="1171" text-anchor="middle" style="font-size:11px" fill="#9a9a9a">Datenbasis: Deutscher Wetterdienst, dwd.de | Meteogramm erstellt von mtwetter.de | 2025-10-19T03:13:43Z</text>
</svg>
</body></html>
